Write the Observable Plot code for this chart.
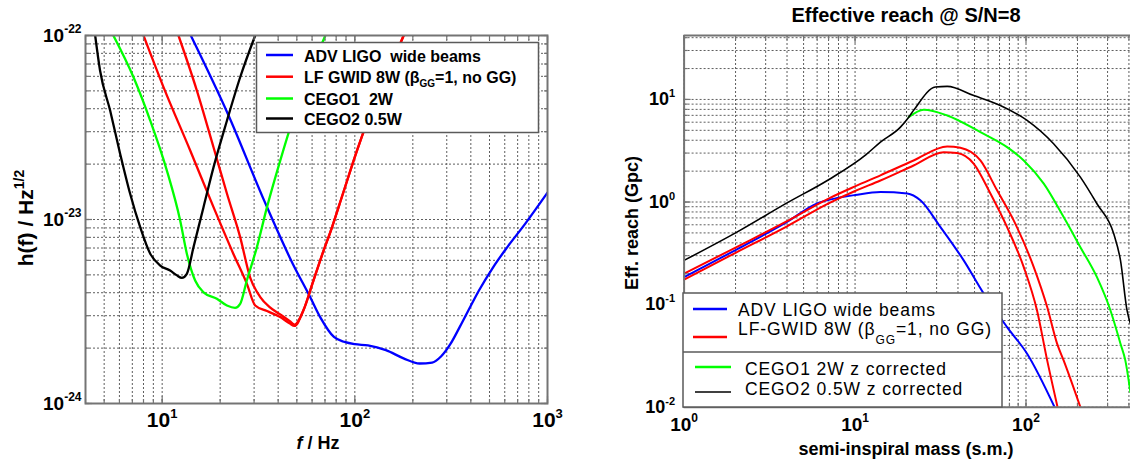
<!DOCTYPE html>
<html><head><meta charset="utf-8">
<script src="https://cdn.jsdelivr.net/npm/d3@7"></script>
<script src="https://cdn.jsdelivr.net/npm/@observablehq/plot@0.6"></script>
<style>
html,body{margin:0;padding:0;background:#fff;}
#wrap{position:relative;width:1130px;height:461px;overflow:hidden;background:#fff;}
#wrap svg{position:absolute;top:0;}
text{white-space:pre;}
</style></head>
<body><div id="wrap"></div>
<script>
// ---------------- LEFT PANEL: strain sensitivity h(f) ----------------
const advF   = [14.08, 22.05, 33.8, 47.6, 58.7, 66.2, 77.9, 88.5, 100, 117, 145, 179, 217, 252, 280, 313, 350, 400, 440, 522, 620, 767, 1000];
const advH   = [1e-22, 3.7e-23, 1.27e-23, 5.75e-24, 3.78e-24, 2.94e-24, 2.3e-24, 2.16e-24, 2.1e-24, 2.07e-24, 1.95e-24, 1.76e-24, 1.65e-24, 1.67e-24, 1.8e-24, 2.1e-24, 2.6e-24, 3.4e-24, 4.1e-24, 5.5e-24, 7.1e-24, 9.5e-24, 1.4e-23];
const lfaF   = [8.0, 10.16, 13.98, 18.47, 23.4, 27.5, 30.4, 35, 41, 46, 48.6, 54.1, 60.3, 67, 76.2, 86.7, 102.8, 122, 144.8, 179.3];
const lfaH   = [1e-22, 5.24e-23, 2.37e-23, 1.167e-23, 6.52e-24, 4.48e-24, 3.41e-24, 3.18e-24, 2.95e-24, 2.72e-24, 2.64e-24, 3.21e-24, 4.49e-24, 6.25e-24, 9.1e-24, 1.38e-23, 2.38e-23, 3.92e-23, 5.94e-23, 1e-22];
const lfbF   = [12.15, 15.14, 18.47, 21.7, 25.4, 28.6, 32.3, 36, 41, 46, 48.6, 54.1, 60.3, 67, 76.2, 86.7, 102.8, 122, 144.8, 179.3];
const lfbH   = [1e-22, 5.02e-23, 2.47e-23, 1.38e-23, 8.02e-24, 4.85e-24, 3.79e-24, 3.35e-24, 3.05e-24, 2.8e-24, 2.68e-24, 3.21e-24, 4.49e-24, 6.25e-24, 9.1e-24, 1.38e-23, 2.38e-23, 3.92e-23, 5.94e-23, 1e-22];
const cego1F = [5.58, 7.10, 8.67, 10.58, 12.4, 13.43, 14.83, 16.39, 19.23, 21.68, 23.9, 25.4, 27.5, 31.0, 35.0, 41.0, 48.1, 70.3];
const cego1H = [1e-22, 5.93e-23, 3.45e-23, 1.845e-23, 9.89e-24, 6.52e-24, 4.66e-24, 4.02e-24, 3.71e-24, 3.41e-24, 3.31e-24, 3.48e-24, 4.66e-24, 7.06e-24, 1.167e-23, 2.09e-23, 3.6e-23, 1e-22];
const cego2F = [4.49, 4.76, 5.37, 6.05, 6.82, 7.69, 8.67, 9.77, 11.0, 11.92, 12.65, 13.43, 14.54, 16.39, 18.47, 21.7, 25.4, 30.4];
const cego2H = [1e-22, 6.45e-23, 3.91e-23, 2.28e-23, 1.38e-23, 9.08e-24, 6.51e-24, 5.62e-24, 5.28e-24, 4.97e-24, 4.82e-24, 5.07e-24, 7.06e-24, 1.167e-23, 1.92e-23, 3.45e-23, 5.93e-23, 1e-22];
const leftXTicks = [10, 100, 1000];
const leftYTicks = [1e-24, 1e-23, 1e-22];

// ---------------- RIGHT PANEL: effective reach ----------------
const rAdvM   = [1, 2, 4, 6, 8, 10, 14.08, 20.2, 24.1, 31.6, 43.2, 56.6, 77.5, 101.5, 147];
const rAdvR   = [0.185, 0.34, 0.64, 0.97, 1.1, 1.17, 1.25, 1.21, 1.04, 0.57, 0.27, 0.128, 0.0604, 0.0332, 0.01];
const rLfaM   = [1, 2, 4, 7, 10, 14.08, 22, 34.6, 41.3, 54.1, 67.7, 84.7, 111, 133, 152, 166, 208];
const rLfaR   = [0.2, 0.36, 0.65, 1.08, 1.42, 1.82, 2.54, 3.48, 3.38, 2.54, 1.30, 0.662, 0.232, 0.0946, 0.0416, 0.0286, 0.01];
const rLfbM   = [1, 2, 4, 7, 10, 14.08, 22, 33, 39.5, 49.5, 61.9, 77.5, 97, 116, 133, 153];
const rLfbR   = [0.175, 0.32, 0.58, 0.97, 1.28, 1.62, 2.27, 3.06, 3.0, 2.36, 1.21, 0.569, 0.232, 0.0877, 0.0286, 0.01];
const rCego1M = [20.6, 25.2, 34.6, 54.1, 77.5, 97, 127, 166, 208, 260, 312, 357, 381, 408];
const rCego1R = [6.72, 7.94, 6.98, 4.80, 3.43, 2.54, 1.51, 0.713, 0.363, 0.185, 0.0877, 0.0416, 0.0286, 0.014];
const rCego2M = [1, 2, 4, 7, 11.6, 14.08, 18.43, 20.6, 22.0, 29.5, 34.6, 49.5, 70.8, 101.5, 145, 208, 260, 326, 357, 390, 408];
const rCego2R = [0.27, 0.5, 0.98, 1.65, 2.9, 3.84, 5.37, 6.72, 7.82, 13.2, 13.4, 10.9, 8.74, 6.24, 3.70, 1.75, 0.962, 0.491, 0.27, 0.0877, 0.065];
const rightXTicks = [1, 10, 100];
const rightYTicks = [0.01, 0.1, 1, 10];

// ---------------- helpers ----------------
const FONT = "'Liberation Sans', Arial, Helvetica, sans-serif";
const rows = (xs, ys) => xs.map((x, i) => ({x, y: ys[i]}));
const minorTicks = (lo, hi) => {
  const out = [];
  for (let e = Math.floor(Math.log10(lo)); e <= Math.ceil(Math.log10(hi)); e++)
    for (let k = 1; k < 10; k++) {
      const v = +(k * Math.pow(10, e)).toPrecision(6);
      if (v >= lo * (1 - 1e-9) && v <= hi * (1 + 1e-9)) out.push(v);
    }
  return out;
};
const pow10 = d => "10^" + Math.round(Math.log10(d));
const frameColor = "#747474";
const grid = {stroke: "#5e5e5e", strokeOpacity: 1, strokeDasharray: "2,2", strokeWidth: 1};
const lineOpt = (stroke, w) => ({x: "x", y: "y", stroke, strokeWidth: w, curve: "monotone-x", clip: true});
const tickAxis = (kind, anchor, ticks, size) => (kind === "x" ? Plot.axisX : Plot.axisY)({
  ticks, anchor, tickSize: size, inset: size, tickFormat: () => "", label: null,
  stroke: frameColor, strokeWidth: 1.2
});

function supify(svg) {
  d3.select(svg).selectAll("text").each(function () {
    const s = this.textContent;
    const i = s.indexOf("^");
    if (i < 0) return;
    const fs = parseFloat(getComputedStyle(this).fontSize) || 16;
    const t = d3.select(this);
    t.text(null);
    t.append("tspan").text(s.slice(0, i));
    t.append("tspan").attr("font-size", Math.round(fs * 0.62)).attr("dy", -fs * 0.45).text(s.slice(i + 1));
  });
}
function addText(svg, x, y, parts, o = {}) {
  const t = d3.select(svg).append("text")
    .attr("x", x).attr("y", y).attr("font-family", FONT)
    .attr("font-size", o.size || 16).attr("font-weight", o.weight || "bold")
    .attr("text-anchor", o.anchor || "start").attr("fill", "#000")
    .style("white-space", "pre");
  if (o.rotate) t.attr("transform", `rotate(${o.rotate},${x},${y})`);
  if (o.spacing) t.attr("letter-spacing", o.spacing);
  let shift = 0;
  for (const p of parts) {
    const s = t.append("tspan").text(p.t);
    const target = p.sup ? -p.sup : (p.sub ? p.sub : 0);
    if (target !== shift) { s.attr("dy", target - shift); shift = target; }
    if (p.size) s.attr("font-size", p.size);
    if (p.italic) s.attr("font-style", "italic");
  }
  return t;
}
function legendBox(svg, box, seps, items, textOpt) {
  const g = d3.select(svg).append("g");
  g.append("rect").attr("x", box[0]).attr("y", box[1]).attr("width", box[2]).attr("height", box[3])
    .attr("fill", "#fff").attr("stroke", "#5a5a5a").attr("stroke-width", 1.5);
  for (const sy of seps)
    g.append("line").attr("x1", box[0]).attr("x2", box[0] + box[2]).attr("y1", sy).attr("y2", sy)
      .attr("stroke", "#5a5a5a").attr("stroke-width", 1.5);
  for (const it of items) {
    g.append("line").attr("x1", it.x1).attr("x2", it.x2).attr("y1", it.ly).attr("y2", it.ly)
      .attr("stroke", it.color).attr("stroke-width", it.w || 2.5);
    addText(svg, it.tx, it.ty, it.parts, textOpt);
  }
}

const wrap = document.getElementById("wrap");

// ---------------- LEFT PLOT ----------------
const lMinX = minorTicks(4, 1000), lMinY = minorTicks(1e-24, 1e-22);
const left = Plot.plot({
  width: 580, height: 461,
  marginLeft: 85, marginRight: 33, marginTop: 35, marginBottom: 58,
  style: {fontFamily: FONT, background: "transparent"},
  x: {type: "log", domain: [4, 1000]},
  y: {type: "log", domain: [1e-24, 1e-22]},
  marks: [
    Plot.gridX(lMinX, grid),
    Plot.gridY(lMinY, grid),
    Plot.line(rows(advF, advH), lineOpt("#0000ff", 2.3)),
    Plot.line(rows(lfaF, lfaH), lineOpt("#ff0000", 2.3)),
    Plot.line(rows(lfbF, lfbH), lineOpt("#ff0000", 2.3)),
    Plot.line(rows(cego1F, cego1H), lineOpt("#00ff00", 2.3)),
    Plot.line(rows(cego2F, cego2H), lineOpt("#000000", 2.3)),
    tickAxis("x", "bottom", lMinX, 4), tickAxis("x", "top", lMinX, 4),
    tickAxis("y", "left", lMinY, 4), tickAxis("y", "right", lMinY, 4),
    tickAxis("x", "bottom", leftXTicks, 7), tickAxis("x", "top", leftXTicks, 7),
    tickAxis("y", "left", leftYTicks, 7), tickAxis("y", "right", leftYTicks, 7),
    Plot.axisX({ticks: leftXTicks, anchor: "bottom", tickSize: 0, tickPadding: 9, tickFormat: pow10, label: null, fontSize: 21, fontWeight: "bold"}),
    Plot.axisY({ticks: leftYTicks, anchor: "left", tickSize: 0, tickPadding: 4, tickFormat: pow10, label: null, fontSize: 19, fontWeight: "bold"}),
    Plot.frame({stroke: frameColor, strokeWidth: 2})
  ]
});
left.style.left = "0px";
wrap.appendChild(left);
supify(left);
addText(left, 33, 218, [{t: "h(f) / Hz"}, {t: "1/2", sup: 9, size: 14}], {size: 21, rotate: -90, anchor: "middle"});
addText(left, 318, 449, [{t: "f", italic: true}, {t: " / Hz"}], {size: 18, anchor: "middle"});
legendBox(left, [256.5, 42.5, 282, 90], [], [
  {color: "#0000ff", x1: 266, x2: 293, ly: 55, tx: 304, ty: 61.5, parts: [{t: "ADV LIGO  wide beams"}]},
  {color: "#ff0000", x1: 266, x2: 293, ly: 76.7, tx: 304, ty: 82.5, parts: [{t: "LF GWID 8W (β"}, {t: "GG", sub: 4, size: 10}, {t: "=1, no GG)"}]},
  {color: "#00ff00", x1: 266, x2: 293, ly: 98.5, tx: 304, ty: 105, parts: [{t: "CEGO1  2W"}]},
  {color: "#000000", x1: 266, x2: 293, ly: 118.5, tx: 304, ty: 124.5, parts: [{t: "CEGO2 0.5W"}]}
], {size: 16, weight: "bold"});

// ---------------- RIGHT PLOT ----------------
const OX = 580;
const rMinX = minorTicks(1, 400), rMinY = minorTicks(0.01, 40);
const right = Plot.plot({
  width: 550, height: 461,
  marginLeft: 683.6 - OX, marginRight: 0, marginTop: 35, marginBottom: 54.3,
  style: {fontFamily: FONT, background: "transparent"},
  x: {type: "log", domain: [1, 500], range: [683.6 - OX, 1145 - OX]},
  y: {type: "log", domain: [0.01, 42]},
  marks: [
    Plot.gridX(rMinX, grid),
    Plot.gridY(rMinY, grid),
    Plot.line(rows(rAdvM, rAdvR), lineOpt("#0000ff", 2)),
    Plot.line(rows(rLfaM, rLfaR), lineOpt("#ff0000", 2)),
    Plot.line(rows(rLfbM, rLfbR), lineOpt("#ff0000", 2)),
    Plot.line(rows(rCego1M, rCego1R), lineOpt("#00ff00", 2)),
    Plot.line(rows(rCego2M, rCego2R), lineOpt("#000000", 1.6)),
    tickAxis("x", "bottom", rMinX, 4), tickAxis("x", "top", rMinX, 4),
    tickAxis("y", "left", rMinY, 4),
    tickAxis("x", "bottom", rightXTicks, 7), tickAxis("x", "top", rightXTicks, 7),
    tickAxis("y", "left", rightYTicks, 7),
    Plot.axisX({ticks: rightXTicks, anchor: "bottom", tickSize: 0, tickPadding: 10, tickFormat: pow10, label: null, fontSize: 19, fontWeight: "bold"}),
    Plot.axisY({ticks: rightYTicks, anchor: "left", tickSize: 0, tickPadding: 9, tickFormat: pow10, label: null, fontSize: 18, fontWeight: "bold"}),
    Plot.ruleX([1], {stroke: frameColor, strokeWidth: 2}),
    Plot.ruleY([0.01, 42], {stroke: frameColor, strokeWidth: 2})
  ]
});
right.style.left = OX + "px";
wrap.appendChild(right);
supify(right);
addText(right, 906 - OX, 22, [{t: "Effective reach @ S/N=8"}], {size: 20, anchor: "middle"});
addText(right, 638 - OX, 223, [{t: "Eff. reach (Gpc)"}], {size: 18, rotate: -90, anchor: "middle"});
addText(right, 906 - OX, 455, [{t: "semi-inspiral mass (s.m.)"}], {size: 18, anchor: "middle"});
legendBox(right, [683 - OX, 293, 319, 114], [352], [
  {color: "#0000ff", x1: 693 - OX, x2: 727 - OX, ly: 309, tx: 738 - OX, ty: 316, parts: [{t: "ADV LIGO wide beams"}]},
  {color: "#ff0000", x1: 693 - OX, x2: 727 - OX, ly: 337, tx: 738 - OX, ty: 335, parts: [{t: "LF-GWID 8W (β"}, {t: "GG", sub: 9, size: 12}, {t: "=1, no GG)"}]},
  {color: "#00ff00", x1: 695 - OX, x2: 731 - OX, ly: 367, tx: 745 - OX, ty: 375, parts: [{t: "CEGO1 2W z corrected"}]},
  {color: "#000000", x1: 695 - OX, x2: 731 - OX, ly: 392, tx: 745 - OX, ty: 395, w: 1.6, parts: [{t: "CEGO2 0.5W z corrected"}]}
], {size: 17.5, weight: "normal", spacing: 0.9});
</script>
</body></html>
